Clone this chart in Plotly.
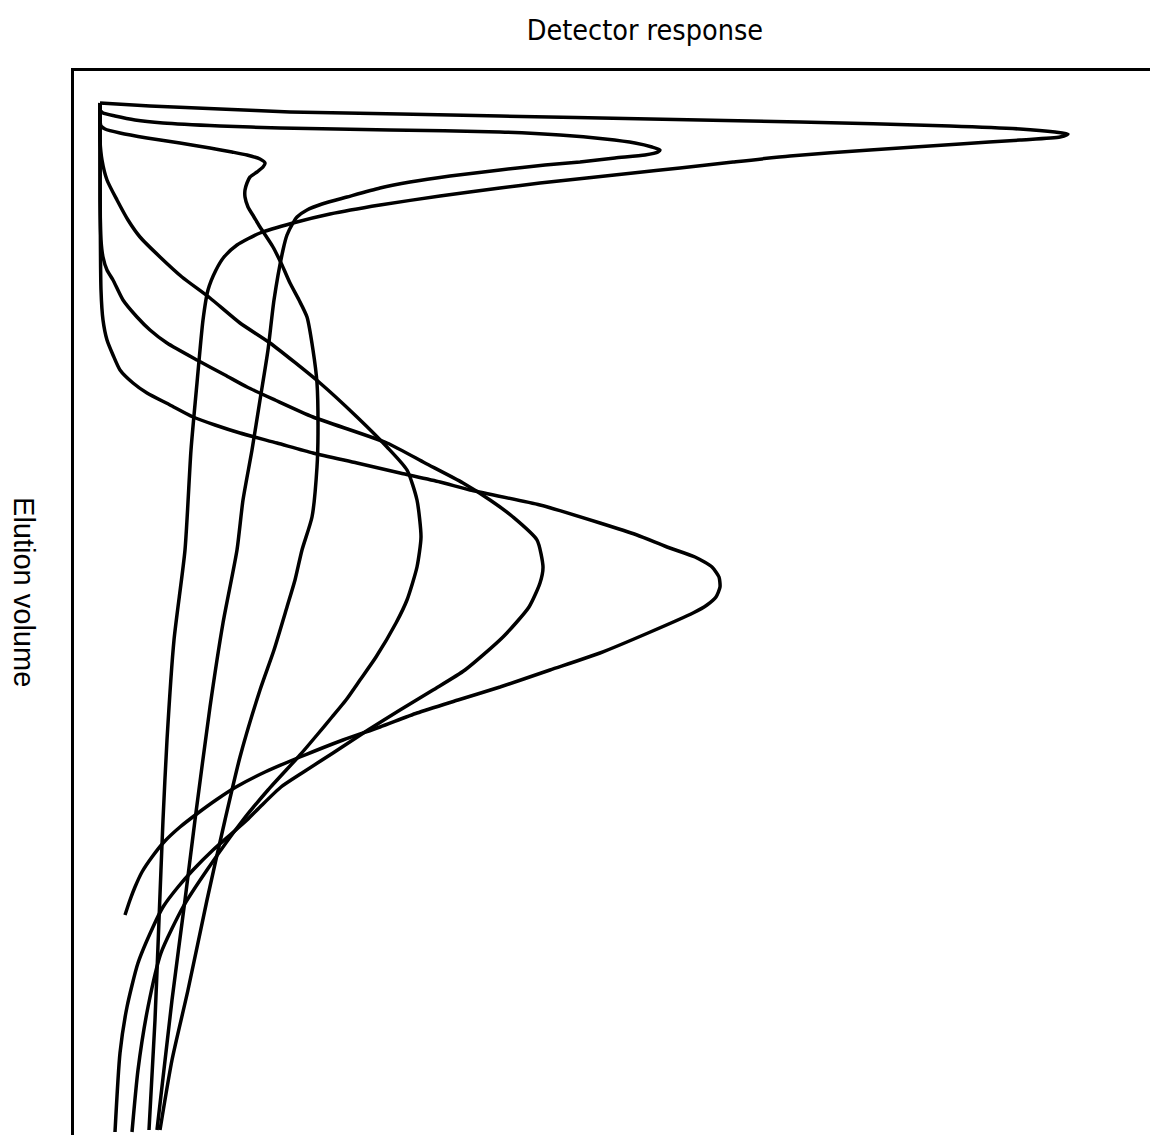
import plotly.graph_objects as go

# Elution volume (v) and detector response (r) for each chromatogram
a_v = [0.0, 0.3, 0.6, 0.9, 1.1, 1.3, 1.6, 1.9, 2.3, 2.6, 2.9, 3.1, 3.4, 3.7, 4.1, 4.7, 5.3, 5.9, 6.5, 7.0,
       8.0, 8.5, 9.3, 10.2, 11.1, 12.0, 13.0, 14.2, 15.4, 16.7, 18.7, 21.7, 28.0, 34.7, 44.7, 53.7, 63.7,
       71.7, 81.7, 91.7, 102.7]
a_r = [0.0, 5.0, 12.0, 19.0, 30.0, 40.0, 55.0, 70.0, 85.0, 92.0, 95.5, 96.8, 96.0, 92.0, 86.0, 77.0, 69.0,
       63.3, 58.0, 53.3, 44.0, 40.0, 34.0, 28.0, 23.0, 19.3, 16.0, 13.7, 12.4, 11.6, 10.8, 10.3, 9.7, 9.1,
       8.5, 7.4, 6.7, 6.3, 5.9, 5.5, 4.9]

b_v = [0.0, 0.7, 1.0, 1.3, 1.7, 2.0, 2.3, 2.5, 2.7, 2.9, 3.2, 3.6, 4.0, 4.4, 4.7, 4.9, 5.2, 5.5, 5.9, 6.2,
       6.7, 7.3, 7.9, 8.5, 9.4, 10.1, 10.7, 11.4, 12.0, 13.2, 14.7, 19.7, 24.7, 29.7, 34.7, 39.7, 44.7,
       52.0, 60.4, 71.7, 79.7, 89.7, 102.7]
b_r = [0.0, 0.0, 0.3, 1.5, 3.5, 6.3, 12.0, 18.0, 29.0, 40.0, 46.0, 50.5, 53.5, 55.2, 56.0, 55.8, 54.5, 51.5,
       48.0, 44.5, 40.0, 35.0, 31.0, 28.0, 24.7, 22.2, 20.7, 19.7, 19.3, 18.7, 18.3, 17.4, 16.8, 16.0, 15.2,
       14.3, 13.7, 12.3, 11.0, 9.5, 8.5, 7.2, 5.7]

c_v = [0.0, 1.7, 2.3, 2.6, 3.0, 3.5, 4.0, 4.5, 4.9, 5.2, 5.6, 6.0, 6.4, 6.9, 7.4, 8.0, 8.7, 9.4, 10.4, 11.4,
       12.4, 14.4, 16.2, 18.0, 19.7, 21.4, 24.7, 28.0, 33.0, 36.4, 41.4, 44.7, 47.7, 50.4, 54.7, 58.7, 65.4,
       71.7, 79.7, 88.7, 95.7, 102.7]
c_r = [0.0, 0.0, 0.1, 0.5, 2.0, 4.7, 8.0, 11.0, 13.2, 14.7, 16.0, 16.5, 16.3, 15.7, 15.0, 14.7, 14.5, 14.5,
       14.8, 15.4, 16.0, 17.3, 18.2, 19.0, 19.9, 20.7, 21.3, 21.7, 21.8, 21.7, 21.2, 20.2, 19.5, 18.7, 17.4,
       16.0, 14.0, 12.5, 10.7, 8.8, 7.2, 6.0]

d_v = [0.0, 3.7, 5.7, 7.7, 9.7, 11.7, 13.4, 15.4, 17.4, 19.5, 22.0, 24.0, 28.0, 31.4, 34.4, 36.7, 39.7, 43.4,
       46.4, 49.7, 52.0, 55.4, 57.7, 59.7, 61.4, 63.2, 65.2, 68.7, 71.7, 76.7, 80.4, 85.0, 90.4, 96.7, 102.9]
d_r = [0.0, 0.0, 0.2, 0.7, 1.7, 2.8, 4.0, 6.0, 8.2, 11.0, 14.0, 17.0, 22.0, 25.7, 28.7, 30.7, 31.7, 32.1,
       31.7, 30.7, 29.6, 27.6, 26.0, 24.6, 23.2, 21.7, 20.0, 16.8, 14.3, 10.7, 8.3, 6.1, 4.8, 3.8, 3.2]

e_v = [0.0, 9.7, 13.7, 15.4, 16.7, 17.7, 19.7, 21.4, 22.7, 24.0, 25.7, 27.2, 28.4, 29.7, 31.4, 34.0, 36.0,
       38.0, 39.7, 41.4, 43.7, 46.4, 48.0, 50.4, 53.4, 56.7, 58.7, 60.7, 62.7, 65.0, 67.0, 68.4, 70.4, 71.7,
       73.2, 74.7, 76.7, 78.4, 80.4, 82.4, 86.0, 90.4, 95.0, 102.9]
e_r = [0.0, 0.0, 0.1, 0.3, 0.7, 1.3, 2.3, 3.7, 5.0, 6.7, 9.7, 12.5, 14.7, 17.5, 21.3, 28.7, 32.5, 36.3, 39.0,
       41.3, 43.7, 44.3, 44.0, 42.9, 40.3, 36.5, 33.3, 30.0, 26.8, 23.3, 20.2, 18.1, 16.0, 14.7, 13.0, 11.3,
       9.3, 7.8, 6.3, 5.3, 3.8, 2.7, 2.0, 1.5]

f_v = [0.0, 18.7, 21.7, 23.7, 25.2, 26.7, 28.0, 29.0, 30.2, 31.4, 32.2, 33.0, 34.0, 35.0, 36.0, 37.0, 37.9,
       38.7, 40.2, 42.0, 43.2, 44.4, 45.4, 46.4, 47.4, 48.4, 49.4, 50.2, 51.0, 53.0, 55.0, 56.7, 58.4, 59.7,
       61.0, 62.4, 63.7, 65.4, 66.9, 68.4, 69.7, 71.0, 72.4, 73.9, 75.4, 76.9, 78.4, 79.7, 81.2]
f_r = [0.0, 0.1, 0.3, 0.7, 1.3, 2.0, 3.3, 4.7, 7.0, 9.3, 11.5, 14.0, 17.7, 21.3, 25.7, 30.0, 34.0, 37.0,
       44.0, 50.0, 53.7, 56.7, 59.5, 61.2, 61.9, 62.0, 61.6, 60.7, 59.3, 54.8, 50.0, 45.0, 40.0, 35.8, 31.7,
       28.0, 24.3, 20.0, 16.5, 13.6, 11.6, 9.8, 8.0, 6.4, 5.2, 4.2, 3.5, 3.0, 2.5]

curves = [(a_r, a_v), (b_r, b_v), (c_r, c_v), (d_r, d_v), (e_r, e_v), (f_r, f_v)]

fig = go.Figure()
for r, v in curves:
    fig.add_trace(go.Scatter(x=r, y=v, mode="lines",
                             line=dict(color="black", width=3.5, shape="spline", smoothing=0.6),
                             hoverinfo="skip", showlegend=False))

fig.update_layout(
    width=1162, height=1139,
    margin=dict(l=74, r=12, t=71, b=4),
    paper_bgcolor="white", plot_bgcolor="white",
    title=dict(text="Detector response", x=0.555, y=0.9737, xanchor="center", yanchor="middle",
               font=dict(family="DejaVu Sans Condensed, Liberation Sans Narrow, DejaVu Sans",
                         size=28.5, color="black")),
    xaxis=dict(range=[-2.6, 105.0], side="top", showline=True, linewidth=3, linecolor="black",
               showgrid=False, zeroline=False, showticklabels=False, ticks=""),
    yaxis=dict(range=[103.2, -3.2], showline=True, linewidth=3, linecolor="black",
               showgrid=False, zeroline=False, showticklabels=False, ticks=""),
    annotations=[dict(text="Elution volume", textangle=90, xref="paper", yref="paper",
                      x=-0.0465, y=0.5103, xanchor="center", yanchor="middle", showarrow=False,
                      font=dict(family="Liberation Sans, Arial", size=29, color="black"))],
)

fig.write_html("out.html")
